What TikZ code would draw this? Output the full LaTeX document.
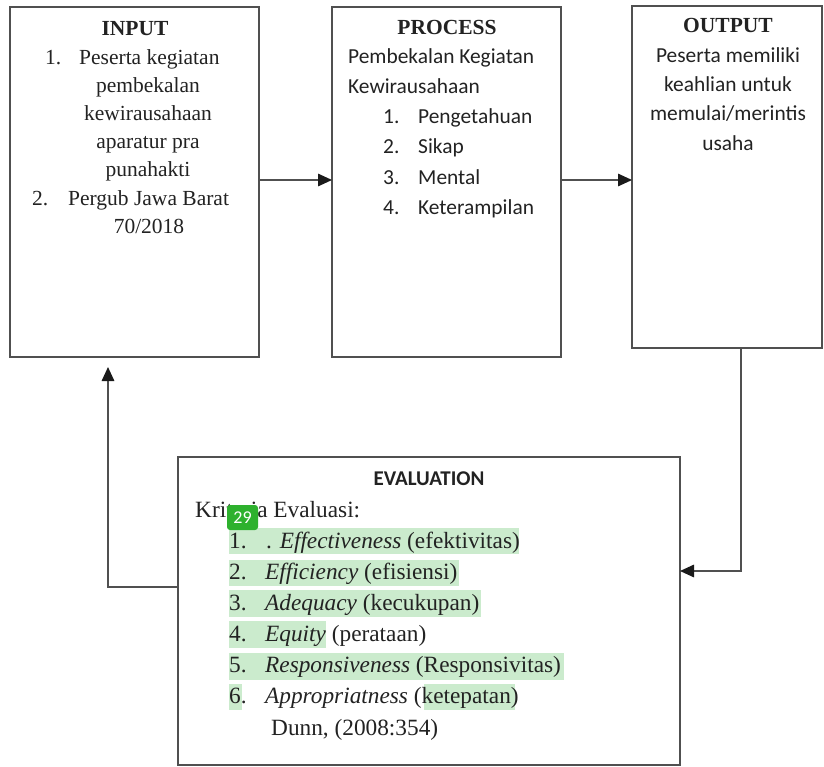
\documentclass[tikz,border=0pt]{standalone}
\usepackage{fontspec}
\setmainfont{Liberation Serif}
\setsansfont{Carlito}
\usetikzlibrary{arrows.meta}
\definecolor{ln}{HTML}{505050}
\definecolor{tx}{HTML}{222222}
\definecolor{hl}{HTML}{CBEBCD}
\definecolor{badgegreen}{HTML}{2EB12E}
\definecolor{tipc}{HTML}{1A1A1A}
\begin{document}
\begin{tikzpicture}[x=1pt,y=-1pt,
  box/.style={draw=ln, line width=1.4pt, inner sep=0pt, outer sep=0pt},
  sr/.style={font=\fontsize{21.5}{25}\selectfont, text=tx, inner sep=0pt, anchor=base},
  srl/.style={sr, anchor=base west},
  cb/.style={font=\sffamily\fontsize{21.4}{25}\selectfont, text=tx, inner sep=0pt, anchor=base},
  cbl/.style={cb, anchor=base west},
  evt/.style={font=\fontsize{23.3}{27}\selectfont, text=tx, inner sep=0pt, anchor=base west},
  arr/.style={draw=ln, line width=1.5pt, -{Triangle[length=14pt,width=12.5pt,fill=tipc,color=tipc]}},
  conn/.style={draw=ln, line width=1.5pt}
]
\useasboundingbox (0,0) rectangle (824,767);
\fill[white] (0,0) rectangle (824,767);

% boxes
\node[box, minimum width=249pt, minimum height=350pt] (in) at (134.5,182) {};
\node[box, minimum width=229pt, minimum height=350pt] (proc) at (446.5,182) {};
\node[box, minimum width=190pt, minimum height=342pt] (out) at (727,177) {};
\node[box, minimum width=502pt, minimum height=308pt] (ev) at (429,611) {};

% INPUT text
\node[sr, font=\bfseries\fontsize{21.5}{25}\selectfont] (inT) at (135,36) {INPUT};
\node[srl] (in1n) at (45,65) {1.};
\node[srl] (in1) at (79,65) {Peserta kegiatan};
\node[sr] (in1b) at (148,93) {pembekalan};
\node[sr] (in1c) at (148,121) {kewirausahaan};
\node[sr] (in1d) at (148,149) {aparatur pra};
\node[sr] (in1e) at (148,177) {punahakti};
\node[srl] (in2n) at (32,206) {2.};
\node[srl] (in2) at (68,206) {Pergub Jawa Barat};
\node[sr] (in2b) at (149,234) {70/2018};

% PROCESS text
\node[sr, font=\bfseries\fontsize{21.5}{25}\selectfont] (prT) at (447,35) {PROCESS};
\node[cbl] (pr0) at (348,64) {Pembekalan Kegiatan};
\node[cbl] (pr0b) at (348,94) {Kewirausahaan};
\node[cbl] (pr1n) at (383,124) {1.};
\node[cbl] (pr1) at (418,124) {Pengetahuan};
\node[cbl] (pr2n) at (383,154) {2.};
\node[cbl] (pr2) at (418,154) {Sikap};
\node[cbl] (pr3n) at (383,185) {3.};
\node[cbl] (pr3) at (418,185) {Mental};
\node[cbl] (pr4n) at (383,215) {4.};
\node[cbl] (pr4) at (418,215) {Keterampilan};

% OUTPUT text
\node[sr, font=\bfseries\fontsize{21.5}{25}\selectfont] (ouT) at (728,33) {OUTPUT};
\node[cb] (ou1) at (728,63) {Peserta memiliki};
\node[cb] (ou2) at (728,92) {keahlian untuk};
\node[cb] (ou3) at (728,121) {memulai/merintis};
\node[cb] (ou4) at (728,151) {usaha};

% highlights
\fill[hl] (229,528) rectangle (519,554);
\fill[hl] (229,560) rectangle (459,586);
\fill[hl] (229,590) rectangle (481,617);
\fill[hl] (229,621) rectangle (326,648);
\fill[hl] (229,653) rectangle (564,680);
\fill[hl] (229,684) rectangle (242,710);
\fill[hl] (424,684) rectangle (515,710);

% EVALUATION text
\node[cb, font=\sffamily\bfseries\fontsize{21}{25}\selectfont] (evT) at (429,485) {EVALUATION};
\node[evt] (ev0) at (195,517) {Kriteria Evaluasi:};
\node[evt] (ev1n) at (229,548) {1.};
\node[evt] (ev1) at (266,548) {. \textit{Effectiveness} (efektivitas)};
\node[evt] (ev2n) at (229,579) {2.};
\node[evt] (ev2) at (265,579) {\textit{Efficiency} (efisiensi)};
\node[evt] (ev3n) at (229,610) {3.};
\node[evt] (ev3) at (265,610) {\textit{Adequacy} (kecukupan)};
\node[evt] (ev4n) at (229,641) {4.};
\node[evt] (ev4) at (265,641) {\textit{Equity} (perataan)};
\node[evt] (ev5n) at (229,672) {5.};
\node[evt] (ev5) at (265,672) {\textit{Responsiveness} (Responsivitas)};
\node[evt] (ev6n) at (229,703) {6.};
\node[evt] (ev6) at (265,703) {\textit{Appropriatness} (ketepatan)};
\node[evt] (ev7) at (271,735) {Dunn, (2008:354)};

% badge (overlaps the word as in the reference)
\node[fill=badgegreen, rounded corners=3pt, minimum width=31pt, minimum height=25pt, inner sep=0pt,
      text=white, font=\sffamily\fontsize{18}{20}\selectfont] (badge) at (242.5,517.5) {29};

% connectors
\coordinate (h1) at (0,180);
\draw[arr] (in.east |- h1) -- (proc.west |- h1);
\draw[arr] (proc.east |- h1) -- (out.west |- h1);
\coordinate (c1) at (741,571);
\draw[arr] (out.south -| c1) -- (c1) -- (c1 -| ev.east);
\coordinate (c2) at (108,587);
\coordinate (c3) at (108,367);
\draw[arr] (c2 -| ev.west) -- (c2) -- (c3);
\end{tikzpicture}
\end{document}
